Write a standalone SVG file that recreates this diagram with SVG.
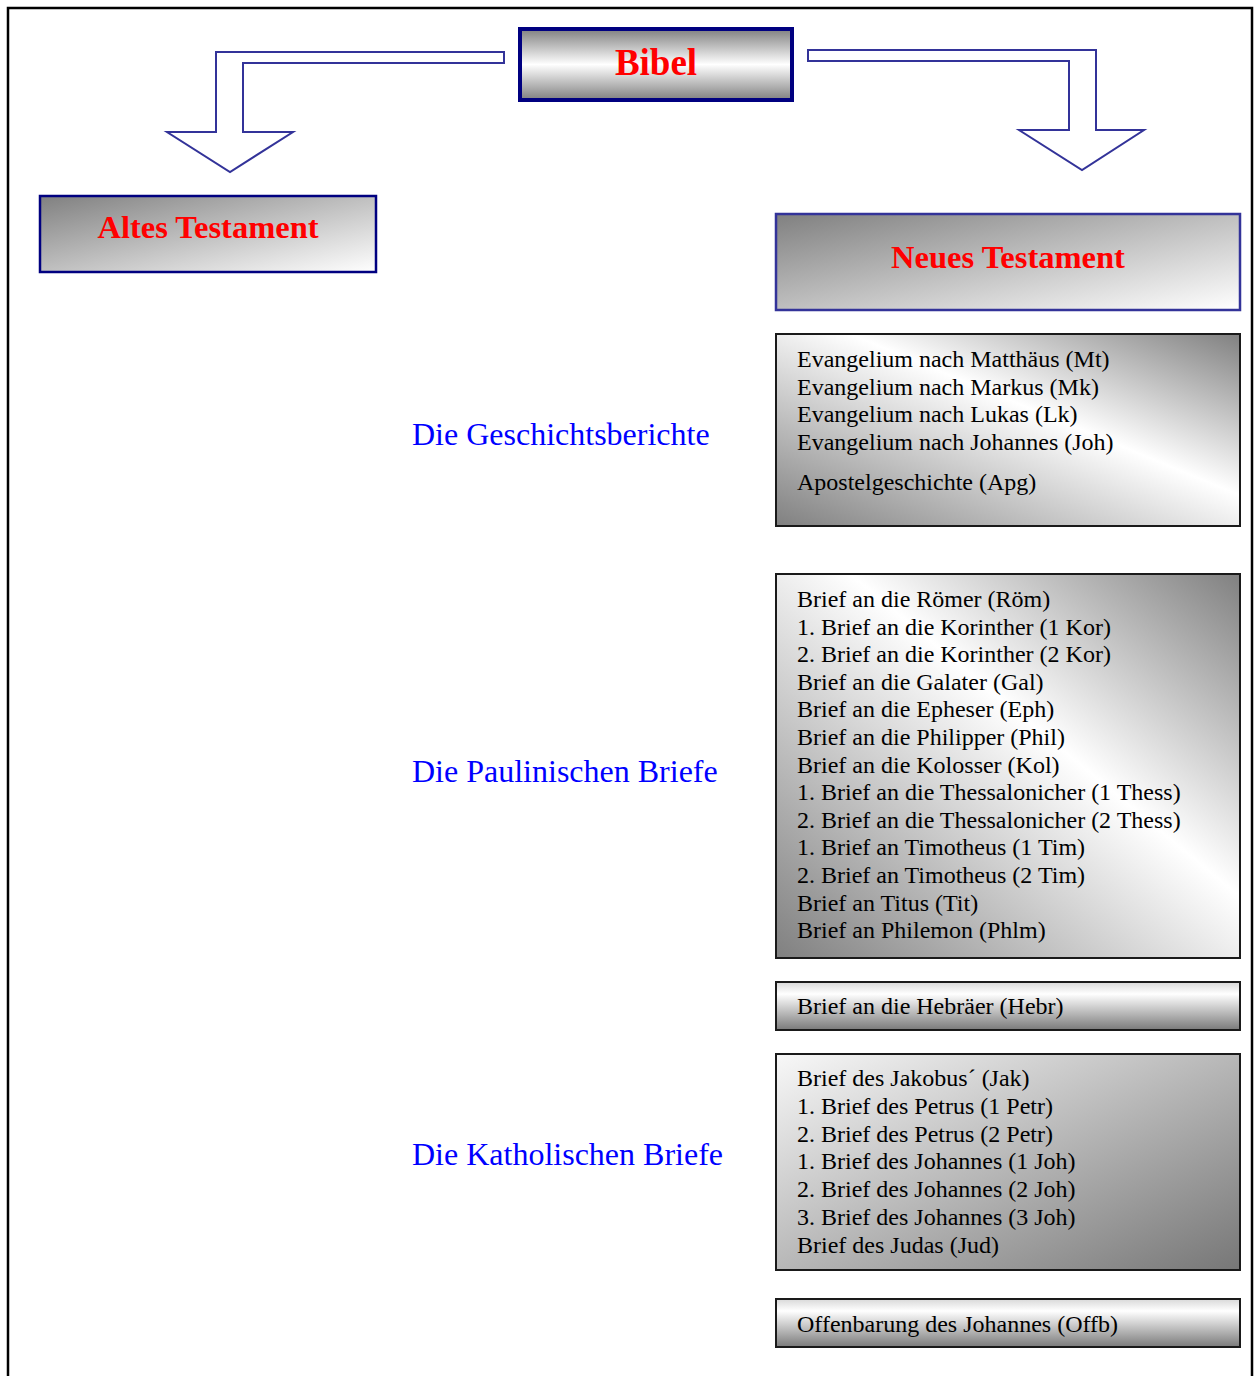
<svg xmlns="http://www.w3.org/2000/svg" width="1256" height="1376" viewBox="0 0 1256 1376">
<style>
.title{font-family:"Liberation Serif","Times New Roman",serif;font-weight:bold;fill:#ff0000;text-anchor:middle}
.lbl{font-family:"Liberation Serif","Times New Roman",serif;font-size:32px;fill:#0000ff}
.item{font-family:"Liberation Serif","Times New Roman",serif;font-size:24px;fill:#000000}
.box{stroke:#1a1a1a;stroke-width:2}
.arrow{fill:#ffffff;stroke:#333399;stroke-width:2;stroke-linejoin:miter}
</style>
<defs>
<linearGradient id="gBand" x1="0" y1="0" x2="0" y2="1">
<stop offset="0" stop-color="#808080"/><stop offset="0.5" stop-color="#ffffff"/><stop offset="1" stop-color="#808080"/>
</linearGradient>
<linearGradient id="gDiag" x1="0" y1="0" x2="1" y2="1">
<stop offset="0" stop-color="#808080"/><stop offset="1" stop-color="#ffffff"/>
</linearGradient>
<linearGradient id="gCross" x1="0" y1="1" x2="1" y2="0">
<stop offset="0" stop-color="#808080"/><stop offset="0.58" stop-color="#ffffff"/><stop offset="1" stop-color="#808080"/>
</linearGradient>
<linearGradient id="gVert" x1="0" y1="0" x2="0" y2="1">
<stop offset="0" stop-color="#d8d8d8"/><stop offset="0.25" stop-color="#ffffff"/><stop offset="1" stop-color="#7a7a7a"/>
</linearGradient>
<linearGradient id="gDiagR" x1="0" y1="0" x2="1" y2="1">
<stop offset="0" stop-color="#f8f8f8"/><stop offset="1" stop-color="#777777"/>
</linearGradient>
</defs>
<rect x="8" y="8" width="1244" height="1380" fill="#ffffff" stroke="#000000" stroke-width="2.5"/>
<g id="connectors">
<polygon class="arrow" points="504,52 216,52 216,132 167,132 230,172 293,132 243,132 243,63 504,63"/>
<polygon class="arrow" points="808,50 1096,50 1096,130 1144,130 1082,170 1019,130 1069,130 1069,61 808,61"/>
</g>
<g id="bibel">
<rect x="520" y="29" width="272" height="71" fill="url(#gBand)" stroke="#000080" stroke-width="4"/>
<text class="title" x="656" y="75" font-size="37">Bibel</text>
</g>
<g id="altes">
<rect x="40" y="196" width="336" height="76" fill="url(#gDiag)" stroke="#000080" stroke-width="2.5"/>
<text class="title" x="208" y="238" font-size="32.5">Altes Testament</text>
</g>
<g id="neues">
<rect x="776" y="214" width="464" height="96" fill="url(#gDiag)" stroke="#333399" stroke-width="2.5"/>
<text class="title" x="1008" y="268" font-size="32.5">Neues Testament</text>
</g>
<g id="lbl-geschichte"><text class="lbl" x="412" y="445">Die Geschichtsberichte</text></g>
<g id="lbl-paulus"><text class="lbl" x="412" y="782">Die Paulinischen Briefe</text></g>
<g id="lbl-katholisch"><text class="lbl" x="412" y="1165">Die Katholischen Briefe</text></g>
<g id="evangelien">
<rect class="box" x="776" y="334" width="464" height="192" fill="url(#gCross)"/>
<text class="item" x="797" y="367">Evangelium nach Matthäus (Mt)</text>
<text class="item" x="797" y="395">Evangelium nach Markus (Mk)</text>
<text class="item" x="797" y="422">Evangelium nach Lukas (Lk)</text>
<text class="item" x="797" y="450">Evangelium nach Johannes (Joh)</text>
<text class="item" x="797" y="490">Apostelgeschichte (Apg)</text>
</g>
<g id="paulus">
<rect class="box" x="776" y="574" width="464" height="384" fill="url(#gCross)"/>
<text class="item" x="797" y="607">Brief an die Römer (Röm)</text>
<text class="item" x="797" y="634.6">1. Brief an die Korinther (1 Kor)</text>
<text class="item" x="797" y="662.2">2. Brief an die Korinther (2 Kor)</text>
<text class="item" x="797" y="689.8">Brief an die Galater (Gal)</text>
<text class="item" x="797" y="717.4">Brief an die Epheser (Eph)</text>
<text class="item" x="797" y="745">Brief an die Philipper (Phil)</text>
<text class="item" x="797" y="772.6">Brief an die Kolosser (Kol)</text>
<text class="item" x="797" y="800.2">1. Brief an die Thessalonicher (1 Thess)</text>
<text class="item" x="797" y="827.8">2. Brief an die Thessalonicher (2 Thess)</text>
<text class="item" x="797" y="855.4">1. Brief an Timotheus (1 Tim)</text>
<text class="item" x="797" y="883">2. Brief an Timotheus (2 Tim)</text>
<text class="item" x="797" y="910.6">Brief an Titus (Tit)</text>
<text class="item" x="797" y="938.2">Brief an Philemon (Phlm)</text>
</g>
<g id="hebraeer">
<rect class="box" x="776" y="982" width="464" height="48" fill="url(#gVert)"/>
<text class="item" x="797" y="1014">Brief an die Hebräer (Hebr)</text>
</g>
<g id="katholisch">
<rect class="box" x="776" y="1054" width="464" height="216" fill="url(#gDiagR)"/>
<text class="item" x="797" y="1086">Brief des Jakobus´ (Jak)</text>
<text class="item" x="797" y="1113.8">1. Brief des Petrus (1 Petr)</text>
<text class="item" x="797" y="1141.6">2. Brief des Petrus (2 Petr)</text>
<text class="item" x="797" y="1169.4">1. Brief des Johannes (1 Joh)</text>
<text class="item" x="797" y="1197.2">2. Brief des Johannes (2 Joh)</text>
<text class="item" x="797" y="1225">3. Brief des Johannes (3 Joh)</text>
<text class="item" x="797" y="1252.8">Brief des Judas (Jud)</text>
</g>
<g id="offenbarung">
<rect class="box" x="776" y="1299" width="464" height="48" fill="url(#gVert)"/>
<text class="item" x="797" y="1332">Offenbarung des Johannes (Offb)</text>
</g>
</svg>
